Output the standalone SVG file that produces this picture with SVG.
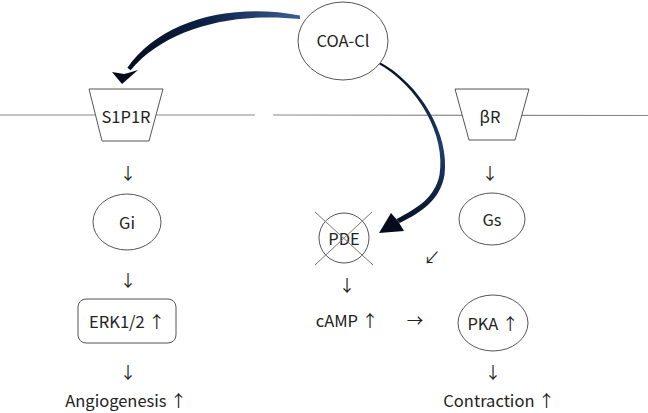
<svg xmlns="http://www.w3.org/2000/svg" width="648" height="413" viewBox="0 0 648 413">
<defs>
<linearGradient id="gl" x1="300" y1="0" x2="120" y2="0" gradientUnits="userSpaceOnUse">
<stop offset="0" stop-color="#3b5f93"/><stop offset="0.5" stop-color="#0d2247"/><stop offset="1" stop-color="#050b1c"/>
</linearGradient>
<linearGradient id="gr" x1="0" y1="60" x2="0" y2="235" gradientUnits="userSpaceOnUse">
<stop offset="0" stop-color="#050b1c"/><stop offset="0.5" stop-color="#1d3d6e"/><stop offset="1" stop-color="#050b1c"/>
</linearGradient>
</defs>
<style>
text{font-family:"Noto Sans CJK JP","Noto Sans",sans-serif;font-size:16.5px;fill:#222;text-anchor:middle;dominant-baseline:central}
.s{fill:#fff;stroke:#555;stroke-width:1}
.m{stroke:#888;stroke-width:1.2;fill:none}
.x{stroke:#777;stroke-width:1}
</style>
<rect width="648" height="413" fill="#fff"/>
<g id="membrane">
<line class="m" x1="0" y1="115" x2="255" y2="115"/>
<line class="m" x1="273" y1="115" x2="648" y2="115.5"/>
</g>
<g id="connectors">
<path d="M 300 15.5 C 232 2, 160 20, 127.4 67.8 L 130.6 70.2 C 166 28, 232 12, 300 19 Z" fill="url(#gl)"/>
<path d="M 112 72 L 122 84 L 138 70 L 128 73 L 124 74 Z" fill="#050b1c"/>
<path d="M 378 61 C 421 84, 450 135, 444.5 175 C 440 200, 422 212, 399.5 223 L 396.5 219 C 418 208, 435 197, 439.5 175 C 446 136, 419 86, 377 63 Z" fill="url(#gr)"/>
<path d="M 379 233 L 391 213 L 398 221 L 404 231 Z" fill="#050b1c"/>
<text x="128" y="173">↓</text>
<text x="128" y="280">↓</text>
<text x="128" y="372">↓</text>
<text x="490" y="173">↓</text>
<text x="347" y="285">↓</text>
<text x="432" y="257">↙</text>
<text x="415" y="320">→</text>
<text x="493" y="372">↓</text>
</g>
<g id="coa">
<ellipse class="s" cx="343" cy="41" rx="45" ry="39"/>
<text x="343" y="40">COA-Cl</text>
</g>
<g id="s1p1r">
<path class="s" d="M 89 89 L 163 89 L 149 141 L 102 141 Z"/>
<text x="126" y="116">S1P1R</text>
</g>
<g id="br">
<path class="s" d="M 455 89 L 529 89 L 515 140 L 469 140 Z"/>
<text x="490" y="116">βR</text>
</g>
<g id="gi">
<ellipse class="s" cx="127" cy="222" rx="34" ry="28"/>
<text x="127" y="222">Gi</text>
</g>
<g id="erk">
<rect class="s" x="78" y="299" width="98" height="44" rx="8"/>
<text x="127" y="321">ERK1/2 ↑</text>
</g>
<g id="angio">
<text x="126" y="400">Angiogenesis ↑</text>
</g>
<g id="gs">
<ellipse class="s" cx="492" cy="219" rx="33" ry="26"/>
<text x="492" y="219">Gs</text>
</g>
<g id="pde">
<circle class="s" cx="344" cy="238" r="25"/>
<text x="344" y="238">PDE</text>
<line class="x" x1="315" y1="212" x2="373" y2="265"/>
<line class="x" x1="372" y1="212" x2="315" y2="265"/>
</g>
<g id="camp">
<text x="347" y="320">cAMP ↑</text>
</g>
<g id="pka">
<ellipse class="s" cx="493" cy="323" rx="35" ry="28"/>
<text x="493" y="323">PKA ↑</text>
</g>
<g id="contraction">
<text x="499" y="400">Contraction ↑</text>
</g>
</svg>
